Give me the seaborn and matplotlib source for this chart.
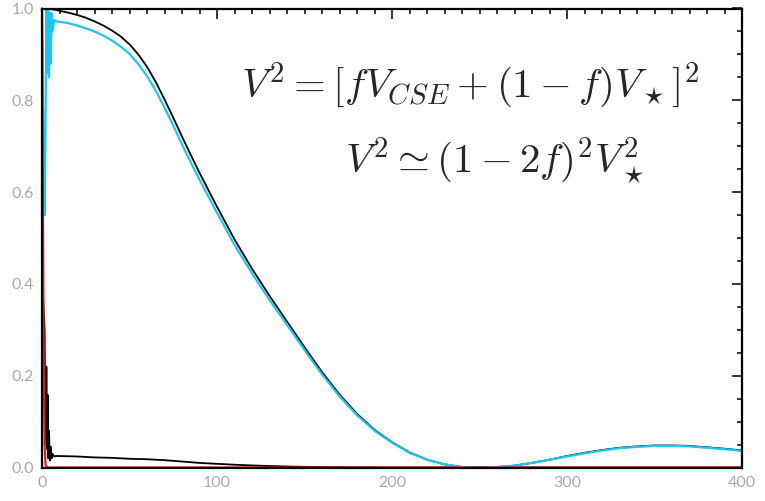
import numpy as np
import pandas as pd
import matplotlib
matplotlib.use("Agg")
import matplotlib.pyplot as plt
import seaborn as sns
from matplotlib.ticker import MultipleLocator

# baseline grid (spatial frequency) for the smooth curves
freq = [0, 5, 10, 15, 20, 25, 30, 35, 40, 45, 50, 55, 60, 65, 70, 75, 80, 85,
        90, 95, 100, 110, 120, 130, 140, 150, 160, 170, 180, 190, 200, 210,
        220, 230, 240, 250, 260, 270, 280, 290, 300, 310, 320, 330, 340, 350,
        360, 370, 380, 390, 400]

# V*^2 : stellar disk alone (black)
v_star = [1.000, 0.999, 0.995, 0.991, 0.986, 0.980, 0.972, 0.963, 0.952, 0.939,
          0.922, 0.900, 0.873, 0.840, 0.802, 0.762, 0.721, 0.681, 0.642, 0.605,
          0.568, 0.497, 0.433, 0.374, 0.318, 0.262, 0.208, 0.159, 0.117, 0.082,
          0.055, 0.033, 0.017, 0.007, 0.001, 0.000, 0.001, 0.004, 0.010, 0.017,
          0.025, 0.032, 0.038, 0.043, 0.046, 0.048, 0.048, 0.047, 0.044, 0.041,
          0.037]

# star + CSE (cyan), with the ringing at very short baselines
freq_tot = [0, 0.5, 1, 1.5, 2, 2.5, 3, 3.5, 4, 4.5, 5, 5.5, 6, 7, 8, 10, 15, 20,
            25, 30, 35, 40, 45, 50, 55, 60, 65, 70, 75, 80, 85, 90, 95, 100,
            110, 120, 130, 140, 150, 160, 170, 180, 190, 200, 210, 220, 230,
            240, 250, 260, 270, 280, 290, 300, 310, 320, 330, 340, 350, 360,
            370, 380, 390, 400]
v_tot = [1.000, 0.80, 0.62, 0.55, 0.75, 1.000, 0.86, 1.000, 0.85, 0.99, 0.88,
         0.99, 0.95, 0.975, 0.972, 0.971, 0.968, 0.963, 0.957, 0.950, 0.941,
         0.930, 0.917, 0.901, 0.879, 0.853, 0.821, 0.784, 0.745, 0.704, 0.665,
         0.627, 0.591, 0.555, 0.485, 0.423, 0.365, 0.311, 0.256, 0.203, 0.155,
         0.114, 0.080, 0.054, 0.032, 0.017, 0.007, 0.001, 0.000, 0.001, 0.004,
         0.010, 0.017, 0.024, 0.031, 0.037, 0.042, 0.045, 0.047, 0.047, 0.046,
         0.043, 0.040, 0.036]

# CSE contribution (small black)
freq_cse = [0, 0.5, 1, 1.5, 2, 2.5, 3, 3.3, 3.6, 4, 4.5, 5, 5.5, 6, 7, 8, 10,
            20, 30, 40, 50, 60, 70, 80, 90, 100, 110, 120, 130, 140, 150, 160,
            170, 180, 190, 200, 220, 400]
v_cse = [0.40, 0.38, 0.34, 0.30, 0.05, 0.22, 0.04, 0.158, 0.02, 0.08, 0.015,
         0.045, 0.02, 0.03, 0.024, 0.025, 0.025, 0.024, 0.022, 0.021, 0.019,
         0.018, 0.016, 0.013, 0.010, 0.008, 0.006, 0.0045, 0.0032, 0.0022,
         0.0015, 0.001, 0.0006, 0.0003, 0.0001, 0.0, 0.0, 0.0]

# fully resolved shell (red)
freq_shell = [0, 0.5, 1, 1.5, 2, 3, 400]
v_shell = [1.0, 0.60, 0.22, 0.05, 0.005, 0.0, 0.0]

sns.set_style("white")
plt.rcParams["mathtext.fontset"] = "cm"
plt.rcParams["font.family"] = ["Lato", "DejaVu Sans"]

fig = plt.figure(figsize=(7.65, 5.01), dpi=100)
ax = fig.add_axes([42 / 765, 1 - 467.5 / 501, 700 / 765, 459 / 501])

sns.lineplot(x=freq, y=v_star, color="black", lw=1.3, ax=ax, estimator=None)
sns.lineplot(x=freq_cse, y=v_cse, color="black", lw=1.3, ax=ax, estimator=None)
sns.lineplot(x=freq_tot, y=v_tot, color="#1ec6ef", lw=1.6, ax=ax, estimator=None)
sns.lineplot(x=freq_shell, y=v_shell, color="#e31a1c", lw=1.6, ax=ax,
             estimator=None, clip_on=False)

ax.set_xlim(0, 400)
ax.set_ylim(0, 1.0)
ax.xaxis.set_major_locator(MultipleLocator(100))
ax.xaxis.set_minor_locator(MultipleLocator(10))
ax.yaxis.set_major_locator(MultipleLocator(0.2))
ax.yaxis.set_minor_locator(MultipleLocator(0.05))
ax.yaxis.set_major_formatter(matplotlib.ticker.FormatStrFormatter("%.1f"))
ax.tick_params(which="both", direction="in", top=True, right=True,
               colors="black", labelcolor="#a8a8a8", labelsize=11.5, width=1.1)
ax.tick_params(which="major", length=7.5, pad=6)
ax.tick_params(which="minor", length=3.5)
for s in ax.spines.values():
    s.set_color("black")
    s.set_linewidth(1.6)

ax.text(244.6, 0.832, r"$V^2 = [fV_{CSE} + (1-f)V_\star]^2$", fontsize=29.5,
        ha="center", va="center")
ax.text(258.9, 0.668, r"$V^2 \simeq (1-2f)^2V_\star^2$", fontsize=29.5,
        ha="center", va="center")

fig.savefig("out.png", dpi=100)
